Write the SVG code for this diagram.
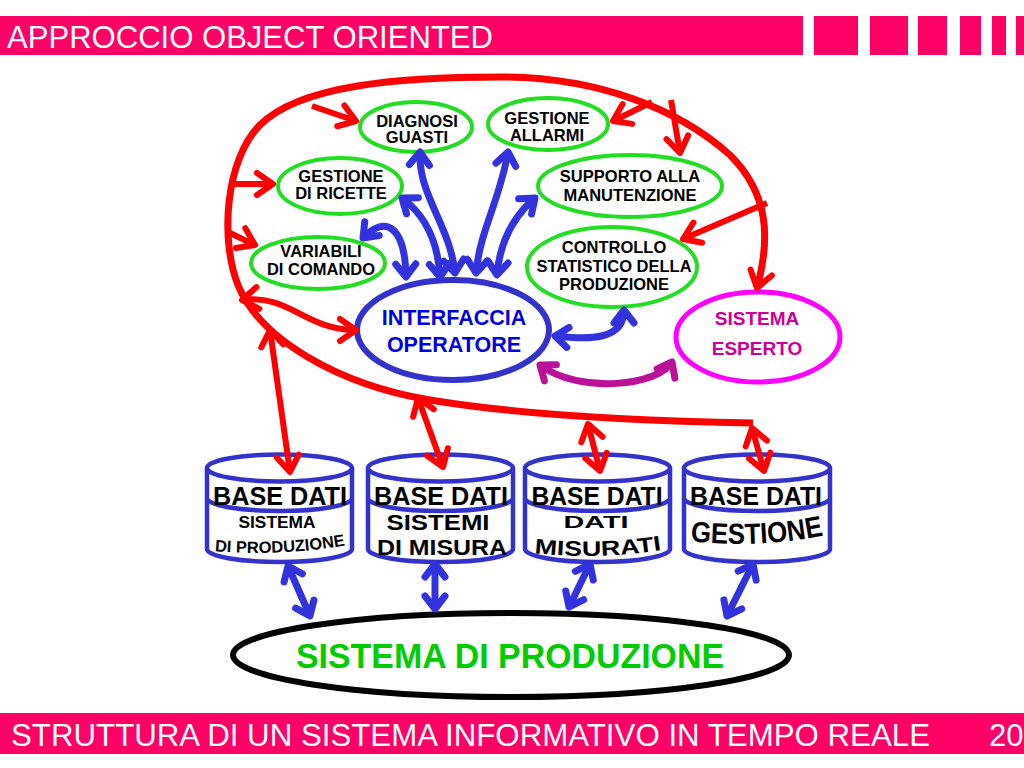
<svg xmlns="http://www.w3.org/2000/svg" width="1024" height="768" viewBox="0 0 1024 768">
<style>
.bar{fill:#FF0066}
.bt{font-family:"Liberation Sans",Arial,sans-serif;fill:#fff;font-size:31px}
.gn{fill:#fff;stroke:#22DD22;stroke-width:4}
.t{font-family:"Liberation Sans",Arial,sans-serif;font-weight:bold;text-anchor:middle;fill:#000}
.gt{font-size:16.5px}
.db{fill:#fff;stroke:#3333CC;stroke-width:4.5}
.red{fill:none;stroke:#FF0000;stroke-width:7}
.ra{fill:none;stroke:#FF0000;stroke-width:6;marker-end:url(#hr)}
.rd{fill:none;stroke:#FF0000;stroke-width:6;marker-start:url(#hr);marker-end:url(#hr)}
.ba{fill:none;stroke:#3333DD;stroke-width:7;marker-start:url(#hb);marker-end:url(#hb)}
.pa{fill:none;stroke:#BB1199;stroke-width:7;marker-start:url(#hp);marker-end:url(#hp)}
</style>
<defs>
<marker id="hr" viewBox="-30 -20 40 40" refX="0" refY="0" markerWidth="40" markerHeight="40" markerUnits="userSpaceOnUse" orient="auto-start-reverse" overflow="visible">
<path d="M-16,-11 L0,0 L-16,11" fill="none" stroke="#FF0000" stroke-width="6" stroke-linecap="round" stroke-linejoin="round"/>
</marker>
<marker id="hb" viewBox="-30 -20 40 40" refX="0" refY="0" markerWidth="40" markerHeight="40" markerUnits="userSpaceOnUse" orient="auto-start-reverse" overflow="visible">
<path d="M-13,-10 L0,0 L-13,10" fill="none" stroke="#3333DD" stroke-width="7" stroke-linecap="round" stroke-linejoin="round"/>
</marker>
<marker id="hp" viewBox="-30 -20 40 40" refX="0" refY="0" markerWidth="40" markerHeight="40" markerUnits="userSpaceOnUse" orient="auto-start-reverse" overflow="visible">
<path d="M-13,-10 L0,0 L-13,10" fill="none" stroke="#BB1199" stroke-width="7" stroke-linecap="round" stroke-linejoin="round"/>
</marker>
<path id="p1" d="M212,551 Q280,557 348,545"/>
<path id="p3" d="M534,553 Q596,560 662,550"/>
<path id="p4" d="M688,541 Q757,549 826,535"/>
</defs>

<g id="header">
<rect class="bar" x="0" y="16" width="803" height="39"/>
<rect class="bar" x="814" y="16" width="44" height="39"/>
<rect class="bar" x="870" y="16" width="38" height="39"/>
<rect class="bar" x="918" y="16" width="29" height="39"/>
<rect class="bar" x="960" y="16" width="21" height="39"/>
<rect class="bar" x="992" y="16" width="14" height="39"/>
<rect class="bar" x="1016" y="16" width="8" height="39"/>
<text class="bt" x="7" y="48" textLength="486" lengthAdjust="spacingAndGlyphs">APPROCCIO OBJECT ORIENTED</text>
</g>

<g id="footer">
<rect class="bar" x="0" y="713" width="1024" height="41"/>
<text class="bt" x="11" y="746" textLength="919" lengthAdjust="spacingAndGlyphs">STRUTTURA DI UN SISTEMA INFORMATIVO IN TEMPO REALE</text>
<text class="bt" x="989" y="746">20</text>
</g>

<g id="n-diagnosi">
<ellipse class="gn" cx="416" cy="127" rx="56" ry="25"/>
<text class="t gt" x="417" y="127">DIAGNOSI</text>
<text class="t gt" x="417" y="143">GUASTI</text>
</g>
<g id="n-allarmi">
<ellipse class="gn" cx="548" cy="124" rx="60" ry="26"/>
<text class="t gt" x="547" y="124">GESTIONE</text>
<text class="t gt" x="547" y="141">ALLARMI</text>
</g>
<g id="n-ricette">
<ellipse class="gn" cx="340" cy="186" rx="62" ry="28"/>
<text class="t gt" x="341" y="182">GESTIONE</text>
<text class="t gt" x="341" y="199">DI RICETTE</text>
</g>
<g id="n-variabili">
<ellipse class="gn" cx="318" cy="263" rx="67" ry="26"/>
<text class="t gt" x="321" y="257">VARIABILI</text>
<text class="t gt" x="321" y="275">DI COMANDO</text>
</g>
<g id="n-supporto">
<ellipse class="gn" cx="630" cy="186" rx="92" ry="31"/>
<text class="t gt" x="630" y="182">SUPPORTO ALLA</text>
<text class="t gt" x="630" y="201">MANUTENZIONE</text>
</g>
<g id="n-controllo">
<ellipse class="gn" cx="612" cy="267" rx="85" ry="40"/>
<text class="t gt" x="614" y="253">CONTROLLO</text>
<text class="t gt" x="614" y="272">STATISTICO DELLA</text>
<text class="t gt" x="614" y="290">PRODUZIONE</text>
</g>
<g id="n-interfaccia">
<ellipse cx="453" cy="330" rx="96" ry="50" fill="#fff" stroke="#3333CC" stroke-width="6"/>
<text class="t" x="454" y="325" style="font-size:21.5px;fill:#0000DD">INTERFACCIA</text>
<text class="t" x="454" y="352" style="font-size:21.5px;fill:#0000DD">OPERATORE</text>
</g>
<g id="n-esperto">
<ellipse cx="758" cy="337" rx="82" ry="45" fill="#fff" stroke="#FF00FF" stroke-width="5"/>
<text class="t" x="757" y="325" style="font-size:19px;fill:#CC0099">SISTEMA</text>
<text class="t" x="757" y="355" style="font-size:19px;fill:#CC0099">ESPERTO</text>
</g>

<g id="db-produzione">
<path class="db" d="M207,468 A72.5,13.5 0 0 1 352,468 L352,549 A72.5,13 0 0 1 207,549 Z"/>
<path class="db" d="M207,468 A72.5,13.5 0 0 0 352,468"/>
<path class="db" d="M207,498 A72.5,13 0 0 0 352,498"/>
<text class="t" x="280" y="505" style="font-size:25px" textLength="134" lengthAdjust="spacingAndGlyphs">BASE DATI</text>
<text class="t" x="277" y="528" style="font-size:17px" textLength="77" lengthAdjust="spacingAndGlyphs">SISTEMA</text>
<text class="t" style="font-size:16.5px"><textPath href="#p1" startOffset="50%">DI PRODUZIONE</textPath></text>
</g>
<g id="db-misura">
<path class="db" d="M368,468 A72.5,13.5 0 0 1 513,468 L513,549 A72.5,13 0 0 1 368,549 Z"/>
<path class="db" d="M368,468 A72.5,13.5 0 0 0 513,468"/>
<path class="db" d="M368,498 A72.5,13 0 0 0 513,498"/>
<text class="t" x="441" y="505" style="font-size:25px" textLength="134" lengthAdjust="spacingAndGlyphs">BASE DATI</text>
<text class="t" x="438" y="530" style="font-size:22px" textLength="103" lengthAdjust="spacingAndGlyphs">SISTEMI</text>
<text class="t" x="442" y="555" style="font-size:22px" textLength="130" lengthAdjust="spacingAndGlyphs">DI MISURA</text>
</g>
<g id="db-misurati">
<path class="db" d="M525,468 A72.5,13.5 0 0 1 670,468 L670,549 A72.5,13 0 0 1 525,549 Z"/>
<path class="db" d="M525,468 A72.5,13.5 0 0 0 670,468"/>
<path class="db" d="M525,498 A72.5,13 0 0 0 670,498"/>
<text class="t" x="597" y="505" style="font-size:25px" textLength="131" lengthAdjust="spacingAndGlyphs">BASE DATI</text>
<text class="t" x="596" y="528" style="font-size:17px" textLength="65" lengthAdjust="spacingAndGlyphs">DATI</text>
<text class="t" style="font-size:21px"><textPath href="#p3" startOffset="50%" textLength="128" lengthAdjust="spacingAndGlyphs">MISURATI</textPath></text>
</g>
<g id="db-gestione">
<path class="db" d="M684,468 A73,13.5 0 0 1 830,468 L830,549 A73,13 0 0 1 684,549 Z"/>
<path class="db" d="M684,468 A73,13.5 0 0 0 830,468"/>
<path class="db" d="M684,498 A73,13 0 0 0 830,498"/>
<text class="t" x="756" y="505" style="font-size:25px" textLength="132" lengthAdjust="spacingAndGlyphs">BASE DATI</text>
<text class="t" style="font-size:29px"><textPath href="#p4" startOffset="50%" textLength="134" lengthAdjust="spacingAndGlyphs">GESTIONE</textPath></text>
</g>

<g id="n-sistema-produzione">
<ellipse cx="511" cy="655" rx="278" ry="42" fill="#fff" stroke="#000" stroke-width="6"/>
<text class="t" x="510" y="668" style="font-size:35px;fill:#00CC00" textLength="428" lengthAdjust="spacingAndGlyphs">SISTEMA DI PRODUZIONE</text>
</g>

<g id="connectors">
<path class="red" d="M753,423 C650,421 520,415 430,400 C340,385 260,340 238,285 C220,240 225,160 260,125 C300,85 400,77 500,77 C600,77 680,110 730,155 C770,195 770,240 757,288" marker-end="url(#hr)"/>
<path class="ra" d="M312,106 L356,121"/>
<path class="ra" d="M232,184 L273,184"/>
<path class="ra" d="M228,232 L255,245"/>
<path class="ra" d="M652,102 L613,121"/>
<path class="ra" d="M671,100 L680,153"/>
<path class="ra" d="M767,203 L683,239"/>
<path class="rd" d="M242,300 C290,294 305,330 356,330"/>
<path class="rd" d="M270,330 L290,472"/>
<path class="rd" d="M418,398 L443,467"/>
<path class="rd" d="M588,424 L600,471"/>
<path class="rd" d="M752,428 L764,471"/>
<path class="ba" d="M363,238 C385,215 405,225 406,277"/>
<path class="ba" d="M402,198 C425,215 438,240 440,277"/>
<path class="ba" d="M420,152 C418,195 450,225 455,273"/>
<path class="ba" d="M508,152 C500,200 480,230 476,273"/>
<path class="ba" d="M535,198 C515,215 500,240 497,275"/>
<path class="ba" d="M624,310 C624,340 590,340 555,336"/>
<path class="pa" d="M672,362 C660,385 580,395 540,365"/>
<path class="ba" d="M288,566 L310,616"/>
<path class="ba" d="M435,564 L435,609"/>
<path class="ba" d="M590,564 L569,607"/>
<path class="ba" d="M753,564 L727,616"/>
</g>
</svg>
